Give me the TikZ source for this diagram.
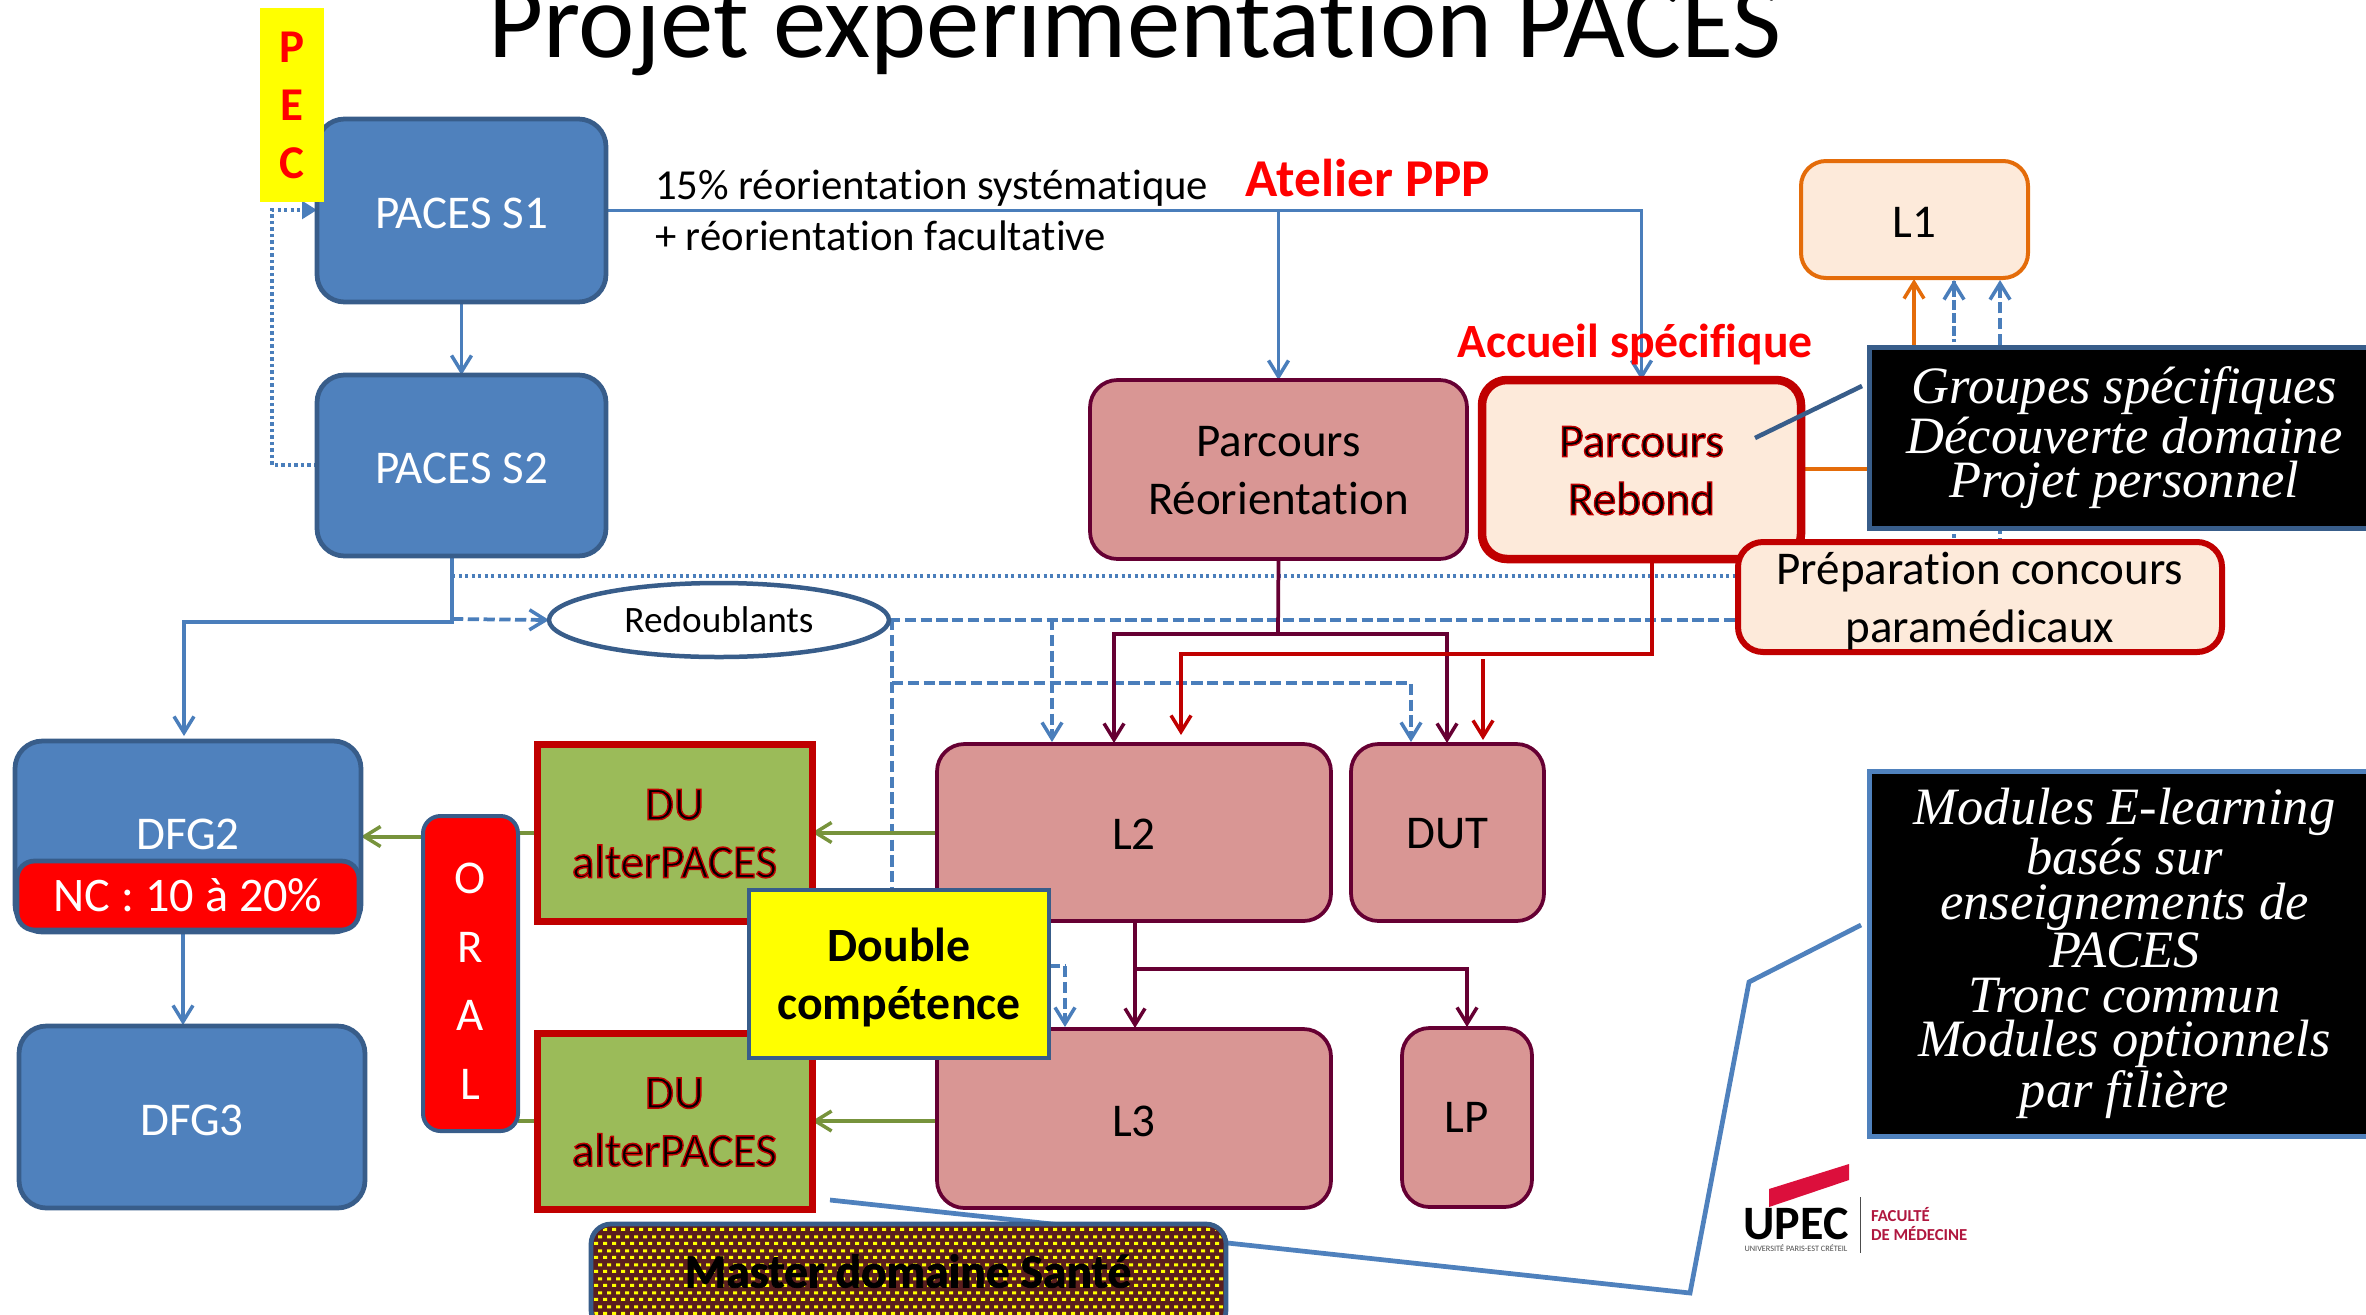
\documentclass[tikz,border=0pt]{standalone}
\usepackage{fontspec}
\usetikzlibrary{arrows.meta,patterns,calc,shapes.geometric}
\setmainfont[Ligatures=NoCommon]{Carlito}
\newfontface\strokefont[FakeBold=3,Ligatures=NoCommon]{Carlito}
\newfontface\strokeboldfont[FakeBold=1.5,Ligatures=NoCommon]{Carlito Bold}
\newfontfamily\handfam{Liberation Serif}
\definecolor{bluefill}{HTML}{4F81BD}
\definecolor{blueline}{HTML}{385D8A}
\definecolor{linkblue}{HTML}{4A7EBB}
\definecolor{rosefill}{HTML}{D99694}
\definecolor{plum}{HTML}{660033}
\definecolor{darkred}{HTML}{C00000}
\definecolor{cream}{HTML}{FDEADA}
\definecolor{orangeline}{HTML}{E46C0A}
\definecolor{greenfill}{HTML}{9BBB59}
\definecolor{greenline}{HTML}{77933C}
\definecolor{logored}{HTML}{DC0F3C}
\definecolor{logotext}{HTML}{B0173F}
\definecolor{masterbg}{HTML}{5A1E1E}
\definecolor{pureyellow}{HTML}{FFFF00}
\definecolor{purered}{HTML}{FF0000}
\pgfdeclarepatternformonly{brickdots}{\pgfqpoint{0pt}{0pt}}{\pgfqpoint{3.6pt}{5.6pt}}{\pgfqpoint{3.6pt}{5.6pt}}{%
 \pgfpathrectangle{\pgfqpoint{0pt}{0pt}}{\pgfqpoint{1.8pt}{1.3pt}}%
 \pgfpathrectangle{\pgfqpoint{1.8pt}{2.8pt}}{\pgfqpoint{1.8pt}{1.3pt}}%
 \pgfusepath{fill}}
\newcommand{\outl}[1]{{\strokefont\special{pdf:bc [0 0 0] [0.75 0 0]}#1\special{pdf:ec}}}
\newcommand{\dn}[2][1.2pt]{\raisebox{-#1}[\height][\depth]{#2}}
\newcommand{\fs}[2]{\fontsize{#1}{#2}\selectfont}
\newcommand{\bx}[7]{%
 \pgfmathsetmacro{\bxcx}{(#2+#4)/2}\pgfmathsetmacro{\bxcy}{(#3+#5)/2}%
 \pgfmathsetmacro{\bxw}{(#4-#2)*0.4}\pgfmathsetmacro{\bxh}{(#5-#3)*0.4}%
 \node[#6,minimum width=\bxw pt,minimum height=\bxh pt] (#1) at (\bxcx,\bxcy) {#7};}
\pgfdeclarelayer{under}
\pgfsetlayers{under,main}
\tikzset{
 x=0.4pt,y=-0.4pt,
 every node/.style={inner sep=0pt,outer sep=0pt,align=center},
 bluebox/.style={draw=blueline,line width=1.9pt,fill=bluefill,rounded corners=11pt,font=\fs{18.8}{23.2},text=white},
 rosebox/.style={draw=plum,line width=1.5pt,fill=rosefill,rounded corners=11pt,font=\fs{18.8}{23.2},text=black},
 creambox/.style={draw=darkred,line width=2.4pt,fill=cream,rounded corners=10pt,font=\fs{18.8}{23.2},text=black},
 dubox/.style={draw=darkred,line width=2.8pt,fill=greenfill,font=\fs{18.8}{23.2},text=black},
 blackbox/.style={draw=blueline,line width=2pt,fill=black,text=white,font=\handfam\itshape\fs{21}{17.8}},
 redhead/.style={font=\bfseries\fs{21.3}{25},text=purered},
 arr/.style={-{Straight Barb[length=6.5pt,width=8pt,line width=1.4pt]}},
 lk/.style={draw=linkblue,line width=1.5pt},
 lkarr/.style={lk,arr},
 dashlk/.style={lk,dash pattern=on 4.5pt off 1.8pt},
 dotlk/.style={lk,dash pattern=on 1.3pt off 1.3pt},
 plumlk/.style={draw=plum,line width=1.5pt},
 redlk/.style={draw=darkred,line width=1.5pt},
 greenlk/.style={draw=greenline,line width=1.6pt},
 orangelk/.style={draw=orangeline,line width=1.6pt},
}
\begin{document}
\begin{tikzpicture}
\useasboundingbox (0,0) rectangle (2366,1314);
\clip (0,0) rectangle (2366,1314);
\node[anchor=base,font=\fs{42.7}{44},text=black] (title) at (1135,57) {Projet expérimentation PACES};
% blue boxes
\bx{s1}{317}{119}{606}{302}{bluebox}{\dn{PACES S1}}
\bx{s2}{317}{375}{606}{556}{bluebox}{\dn{PACES S2}}
\bx{pec}{260}{8}{324}{202}{fill=pureyellow,font=\bfseries\fs{18.8}{23.2},text=purered}{P\\E\\C}
\bx{dfgb}{15}{741}{361}{932}{bluebox}{\raisebox{1pt}[\height][\depth]{DFG2}}
\bx{nc}{17}{861}{359}{930}{draw=blueline,line width=1.9pt,fill=purered,rounded corners=7pt,font=\fs{19.3}{23.2},text=white}{NC : 10 à 20\%}
\bx{dfgc}{19}{1026}{365}{1208}{bluebox}{\dn{DFG3}}
% rose boxes
\bx{reor}{1090}{380}{1467}{559}{rosebox}{\rule{0pt}{13pt}Parcours\\Réorientation}
\bx{rebond}{1482}{380}{1801}{559}{creambox,line width=3.4pt}{\rule{0pt}{13pt}\outl{Parcours}\\\outl{Rebond}}
\bx{lone}{1801}{161}{2028}{278}{creambox,draw=orangeline,line width=1.6pt}{\dn{L1}}
\bx{prep}{1738}{542}{2222}{652}{creambox}{\rule{0pt}{16.5pt}Préparation concours\\paramédicaux}
\bx{ltwo}{937}{744}{1331}{921}{rosebox}{\dn[0.6pt]{L2}}
\bx{dut}{1351}{744}{1544}{921}{rosebox}{\dn[0.6pt]{DUT}}
\bx{lthree}{937}{1029}{1331}{1208}{rosebox}{\dn{L3}}
\bx{lp}{1402}{1028}{1532}{1207}{rosebox}{LP}
% DU and oral
\bx{oral}{423}{816}{518}{1131}{draw=blueline,line width=1.6pt,fill=purered,rounded corners=7pt,font=\fs{18.8}{27.4},text=white}{\rule{0pt}{18.5pt}O\\R\\A\\L}
\bx{duone}{537}{744}{812}{921}{dubox}{\rule{0pt}{13pt}\outl{DU}\\\outl{alterPACES}}
\bx{dutwo}{537}{1033}{812}{1209}{dubox}{\rule{0pt}{13pt}\outl{DU}\\\outl{alterPACES}}
\bx{dbl}{749}{890}{1049}{1058}{draw=blueline,line width=1.9pt,fill=pureyellow,font=\bfseries\fs{19.1}{23.2},text=black}{\rule{0pt}{16.5pt}Double\\compétence}
\bx{master}{591}{1224}{1226}{1330}{draw=blueline,line width=1.9pt,fill=masterbg,rounded corners=8pt}{}
\fill[pattern=brickdots,pattern color=pureyellow,rounded corners=7pt] (594,1227) rectangle (1223,1327);
\node[font=\fs{19}{23.2},text=black] (mastertext) at (908,1271) {{\strokeboldfont Master domaine Santé}};
\node[draw=blueline,line width=1.8pt,fill=white,minimum width=136pt,minimum height=29.6pt,ellipse,font=\fs{14.9}{17},text=black] (red) at (719,620) {Redoublants};
% black panels
\bx{panelone}{1869}{347}{2380}{528}{blackbox}{Groupes spécifiques\\Découverte domaine\\Projet personnel}
\bx{paneltwo}{1869}{771}{2380}{1136}{blackbox,draw=bluefill}{Modules E-learning\\basés sur\\enseignements de\\PACES\\Tronc commun\\Modules optionnels\\par filière}
% free labels
\node[anchor=base west,font=\fs{17.1}{20},text=black] (tone) at (655,199) {15\% réorientation systématique};
\node[anchor=base west,font=\fs{17.1}{20},text=black] (ttwo) at (655,250) {+ réorientation facultative};
\node[anchor=base,redhead] (atelier) at (1368,196) {Atelier PPP};
\node[anchor=base,redhead,font=\bfseries\fs{19.1}{22}] (accueil) at (1635,357) {Accueil spécifique};
% logo
\fill[logored] (1769,1189) -- (1849,1164) -- (1849,1180) -- (1769,1207) -- cycle;
\node[font=\bfseries\fs{19.2}{20},text=black] (upec) at (1796,1224) {UPEC};
\node[font=\fs{3.3}{4},text=black!70] (upecsub) at (1796,1248) {UNIVERSITÉ PARIS-EST CRÉTEIL};
\coordinate (logoa) at (1860,1197);
\coordinate (logob) at (1860,1253);
\draw[black!70,line width=0.4pt] (logoa) -- (logob);
\node[anchor=west,font=\bfseries\fs{6.7}{8},text=logotext] (fac) at (1871,1215) {FACULTÉ};
\node[anchor=west,font=\bfseries\fs{6.7}{8},text=logotext] (med) at (1871,1234) {DE MÉDECINE};
% callout leader on top of Rebond
\coordinate (leadstart) at (1862,386);
\coordinate (leadend) at (1755,438);
\draw[blueline,line width=1.8pt] (leadstart) -- (leadend);
% connectors under the boxes
\begin{pgfonlayer}{under}
\coordinate (ja) at (s1.east -| reor.north);
\coordinate (jb) at (s1.east -| rebond.north);
\draw[lkarr] (s1.east) -- (ja) -- (reor.north);
\draw[lkarr] (ja) -- (jb) -- (rebond.north);
\draw[lkarr] (s1.south) -- (s2.north);
\coordinate (pa) at (272,210);
\coordinate (pb) at (272,465);
\draw[dotlk,-{Triangle[length=6pt,width=7pt]},line width=1.5pt] (s2.west |- pb) -- (pb) -- (pa) -- (s1.west |- pa);
\coordinate (stem) at (452,556);
\coordinate (stemb) at (452,622);
\coordinate (dfgtop) at (184,622);
\coordinate (dfgend) at (184,736);
\draw[lkarr] (stem) -- (stemb) -- (dfgtop) -- (dfgend);
\coordinate (dashs) at (452,619);
\draw[dashlk,arr] (dashs) -- (red.west);
\coordinate (dotcorner) at (1954,576);
\coordinate (dotstart) at (452,576);
\coordinate (lonea) at (1954,280);
\draw[dotlk] (dotstart) -- (dotcorner) -- (lonea);
\coordinate (loneb) at (1954,335);
\draw[lk,dash pattern=on 3pt off 2.5pt,arr] (loneb) -- (lonea);
\coordinate (dashcorner) at (2000,620);
\coordinate (lonec) at (2000,280);
\draw[dashlk,arr] (red.east) -- (dashcorner) -- (lonec);
\coordinate (xa) at (892,619);
\coordinate (xb) at (892,683);
\coordinate (xc) at (1411,683);
\coordinate (xd) at (1052,619);
\coordinate (xe) at (892,966);
\coordinate (xf) at (1065,966);
\coordinate (xg) at (1065,1027);
\coordinate (xh) at (1411,742);
\coordinate (xi) at (1052,742);
\draw[dashlk] (xa) -- (xe) -- (xf);
\draw[dashlk,arr] (xf) -- (xg);
\draw[dashlk,arr] (xb) -- (xc) -- (xh);
\draw[dashlk,arr] (xd) -- (xi);
% plum tree from Reorientation
\coordinate (ra) at (1278,634);
\coordinate (rb) at (1114,634);
\coordinate (rc) at (1114,743);
\coordinate (rd) at (1447,634);
\coordinate (re) at (1447,743);
\draw[plumlk] (reor.south) -- (ra);
\draw[plumlk,arr] (ra) -- (rb) -- (rc);
\draw[plumlk,arr] (ra) -- (rd) -- (re);
% red tree from Rebond
\coordinate (rba) at (1652,654);
\coordinate (rbc) at (1181,654);
\coordinate (rbd) at (1181,735);
\draw[redlk,arr] (rebond.south -| rba) -- (rba) -- (rbc) -- (rbd);
\coordinate (rbb) at (1483,659);
\coordinate (rbe) at (1483,740);
\draw[redlk,arr] (rbb) -- (rbe);
% to L1
\coordinate (oa) at (1914,469);
\coordinate (ob) at (1914,279);
\draw[orangelk,arr] (rebond.east |- oa) -- (oa) -- (ob);
% green
\draw[greenlk,arr] (ltwo.west |- duone.east) -- (duone.east);
\draw[greenlk] (duone.west) -- (oral.east |- duone.west);
\draw[greenlk,arr] (oral.west |- dfgb.east) -- (dfgb.east);
\draw[greenlk,arr] (lthree.west |- dutwo.east) -- (dutwo.east);
\draw[greenlk] (dutwo.west) -- (oral.east |- dutwo.west);
% plum L2->L3, LP
\coordinate (la) at (1135,921);
\coordinate (lb) at (1135,969);
\coordinate (lc) at (1467,969);
\coordinate (ld) at (1135,1028);
\coordinate (le) at (1467,1027);
\draw[plumlk,arr] (la) -- (ld);
\draw[plumlk,arr] (lb) -- (lc) -- (le);
\coordinate (na) at (183,932);
\coordinate (nb) at (183,1025);
\draw[lkarr] (na) -- (nb);
% long callout
\coordinate (ca) at (830,1200);
\coordinate (cb) at (1690,1293);
\coordinate (cc) at (1749,982);
\coordinate (cd) at (1861,925);
\draw[bluefill,line width=1.9pt] (ca) -- (cb) -- (cc) -- (cd);
\end{pgfonlayer}
\end{tikzpicture}
\end{document}
